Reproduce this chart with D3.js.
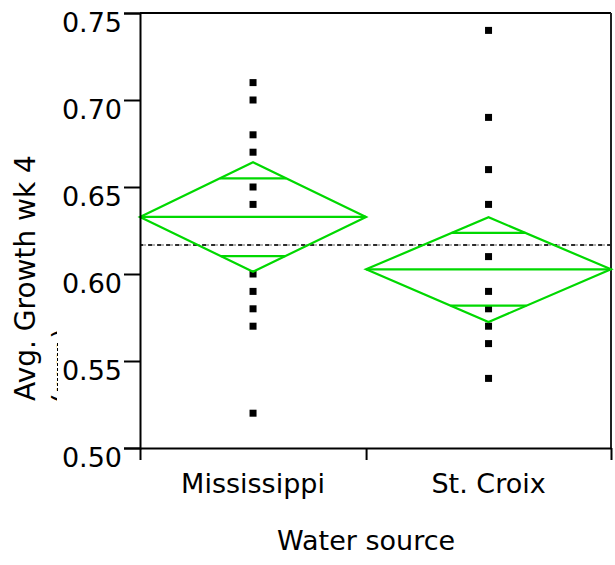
<!DOCTYPE html>
<html>
<head>
<meta charset="utf-8">
<script src="https://cdn.jsdelivr.net/npm/d3@7"></script>
<style>
  body { margin: 0; background: #fff; }
  text { font-family: "DejaVu Sans", Verdana, sans-serif; fill: #000; }
</style>
</head>
<body>
<div id="chart"></div>
<script>
// data
const groups = ['Mississippi', 'St. Croix']
const groupN = [12, 13]   // widths of the groups on the x axis (JMP uses sample size)
const missValues = [0.71, 0.70, 0.68, 0.67, 0.65, 0.64, 0.60, 0.59, 0.58, 0.57, 0.52]
const croixValues = [0.74, 0.69, 0.66, 0.64, 0.61, 0.59, 0.58, 0.57, 0.56, 0.54]
const groupMeans = [0.6328, 0.6027]
const diamondTop = [0.6642, 0.6326]      // upper 95% confidence
const diamondBottom = [0.6013, 0.5724]   // lower 95% confidence
const overlapTop = [0.655, 0.6236]
const overlapBottom = [0.6103, 0.5818]
const grandMean = 0.6167
const yTicks = [0.50, 0.55, 0.60, 0.65, 0.70, 0.75]

const W = 615, H = 565
const MARGIN = { TOP: 13, BOTTOM: 117, LEFT: 140, RIGHT: 4 }
const WIDTH = W - MARGIN.LEFT - MARGIN.RIGHT
const HEIGHT = H - MARGIN.TOP - MARGIN.BOTTOM
const GREEN = '#00d800'

const svg = d3.select('#chart')
    .append('svg')
    .attr('width', W)
    .attr('height', H)

const g = svg.append('g')
    .attr('transform', 'translate(' + MARGIN.LEFT + ',' + MARGIN.TOP + ')')

const total = d3.sum(groupN)
const starts = [0, groupN[0]]
const x = d3.scaleLinear().domain([0, total]).range([0, WIDTH])
const y = d3.scaleLinear().domain([0.5, 0.75]).range([HEIGHT, 0])

const series = [missValues, croixValues]

// frame (top and right)
g.append('line').attr('x1', 0).attr('x2', WIDTH).attr('y1', 0).attr('y2', 0)
    .attr('stroke', '#000').attr('stroke-width', 2)
g.append('line').attr('x1', WIDTH).attr('x2', WIDTH).attr('y1', 0).attr('y2', HEIGHT)
    .attr('stroke', '#222').attr('stroke-width', 2)

// grand mean dashed line
g.append('line').attr('x1', 0).attr('x2', WIDTH)
    .attr('y1', y(grandMean)).attr('y2', y(grandMean))
    .attr('stroke', '#999').attr('stroke-width', 1.5).attr('stroke-dasharray', '6,3')
g.append('line').attr('x1', 0).attr('x2', WIDTH)
    .attr('y1', y(grandMean)).attr('y2', y(grandMean))
    .attr('stroke', '#000').attr('stroke-width', 1.5).attr('stroke-dasharray', '4,5')
    .attr('stroke-dashoffset', 1)

// points
series.forEach((vals, i) => {
    const cx = x(starts[i] + groupN[i] / 2)
    g.selectAll('rect.pt' + i)
        .data(vals)
        .enter().append('rect')
        .attr('class', 'pt' + i)
        .attr('x', cx - 3.5)
        .attr('y', d => y(d) - 3.5)
        .attr('width', 7)
        .attr('height', 7)
        .attr('fill', '#000')
})

// means diamonds
groups.forEach((name, i) => {
    const x0 = x(starts[i]), x1 = x(starts[i] + groupN[i])
    const cx = (x0 + x1) / 2, half = (x1 - x0) / 2
    const m = groupMeans[i]
    const pts = [[x0, y(m)], [cx, y(diamondTop[i])], [x1, y(m)], [cx, y(diamondBottom[i])]]
    g.append('polygon')
        .attr('points', pts.map(p => p.join(',')).join(' '))
        .attr('fill', 'none').attr('stroke', GREEN).attr('stroke-width', 2.2)
    g.append('line').attr('x1', x0).attr('x2', x1).attr('y1', y(m)).attr('y2', y(m))
        .attr('stroke', GREEN).attr('stroke-width', 2.2)
    // overlap marks span the diamond at their height
    const marks = [[overlapTop[i], diamondTop[i]], [overlapBottom[i], diamondBottom[i]]]
    marks.forEach(([v, tip]) => {
        const hw = half * (1 - (v - m) / (tip - m))
        g.append('line').attr('x1', cx - hw).attr('x2', cx + hw)
            .attr('y1', y(v)).attr('y2', y(v))
            .attr('stroke', GREEN).attr('stroke-width', 2.2)
    })
})

// y axis (labels sit just below their ticks, as in the original)
const yAxis = g.append('g')
    .call(d3.axisLeft(y).tickValues(yTicks).tickFormat(d3.format('.2f')).tickSize(16).tickPadding(2))
yAxis.selectAll('text').style('font-size', '27px').attr('dy', '0.68em')
yAxis.selectAll('line, path').attr('stroke', '#000').attr('stroke-width', 2)

// x axis: ticks at group boundaries, labels centred in each group
const xAxis = g.append('g')
    .attr('transform', 'translate(0,' + HEIGHT + ')')
    .call(d3.axisBottom(x).tickValues([0, groupN[0], total]).tickFormat('').tickSize(12).tickSizeOuter(0))
xAxis.selectAll('line, path').attr('stroke', '#000').attr('stroke-width', 2)

g.selectAll('text.cat')
    .data(groups)
    .enter().append('text')
    .attr('class', 'cat')
    .attr('x', (d, i) => x(starts[i] + groupN[i] / 2))
    .attr('y', HEIGHT + 45)
    .attr('text-anchor', 'middle')
    .style('font-size', '27px')
    .text(d => d)

// axis titles
svg.append('text')
    .attr('x', MARGIN.LEFT + x(groupN[0]))
    .attr('y', 550)
    .attr('text-anchor', 'middle')
    .style('font-size', '27px')
    .text('Water source')

svg.append('text')
    .attr('transform', 'translate(35,278) rotate(-90)')
    .attr('text-anchor', 'middle')
    .style('font-size', '28px')
    .text('Avg. Growth wk 4')

// second line of the y title, clipped by the tick label area
svg.append('clipPath').attr('id', 'ylab2')
    .append('rect').attr('x', 0).attr('y', 0).attr('width', 57).attr('height', H)
svg.append('g')
    .attr('clip-path', 'url(#ylab2)')
    .append('text')
    .attr('transform', 'translate(73,366) rotate(-90)')
    .attr('text-anchor', 'middle')
    .style('font-size', '28px')
    .text('(mm)')
svg.append('line')
    .attr('x1', 57.5).attr('x2', 57.5).attr('y1', 343).attr('y2', 392)
    .attr('stroke', '#000').attr('stroke-width', 1).attr('stroke-dasharray', '3,2')
</script>
</body>
</html>
